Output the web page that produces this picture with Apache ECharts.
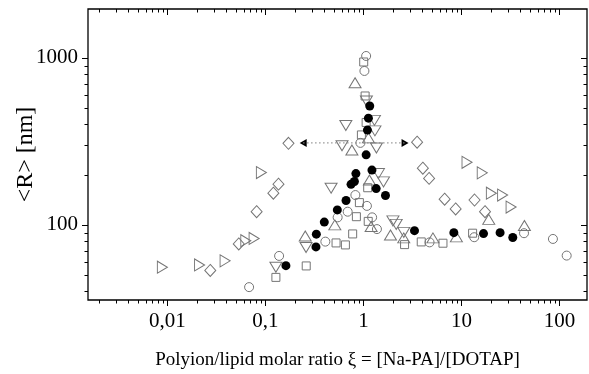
<!DOCTYPE html>
<html>
<head>
<meta charset="utf-8">
<script src="https://cdn.jsdelivr.net/npm/echarts@6/dist/echarts.min.js"></script>
<style>
  html, body { margin: 0; padding: 0; background: #fff; }
  #chart { width: 589px; height: 374px; }
</style>
</head>
<body>
<div id="chart"></div>
<script>
// axis ranges (log-log)
const xMin = 0.00155, xMax = 191;
const yMin = 35.5, yMax = 1965;

// data: x = molar ratio, y = <R> in nm
const openCircleX = [1.066, 1.024, 0.932, 0.828, 1.086, 0.691, 0.546, 1.227, 1.374, 0.409, 0.138, 0.0682, 4.73, 13.5, 43.5, 85.8, 118.5];
const openCircleY = [1028, 836, 310, 151, 130, 120, 111, 111, 94.4, 79.4, 65.2, 42.4, 78.6, 84.4, 89.2, 82.4, 65.5];

const filledCircleX = [1.16, 1.125, 1.099, 1.066, 0.838, 1.222, 0.809, 0.748, 1.349, 1.679, 0.665, 0.542, 0.399, 0.331, 0.328, 0.162, 3.32, 8.37, 16.8, 24.8, 33.4];
const filledCircleY = [516, 436, 370, 263, 203, 213, 182, 175, 165, 150, 140, 123, 104, 88, 73.8, 57, 92.4, 89.9, 88.7, 89.9, 84.1];

const squareX = [1.007, 1.041, 1.066, 0.954, 1.106, 0.91, 0.848, 1.12, 0.777, 0.526, 0.655, 0.261, 0.128, 2.63, 3.89, 6.48, 13.0];
const squareY = [946, 592, 411, 346, 167, 136, 112, 105, 88.3, 78, 75.9, 56.8, 48.5, 76.2, 79.1, 77.7, 89.2];

const upTriX = [0.822, 1.125, 0.763, 1.152, 0.511, 1.199, 0.255, 1.889, 2.58, 5.12, 8.88, 19.0, 43.9];
const upTriY = [711, 332, 281, 186, 100, 97.9, 85.9, 87.1, 83.6, 83.6, 84.8, 108, 99.3];

const downTriX = [1.073, 1.296, 0.662, 1.311, 0.605, 1.358, 0.468, 1.423, 1.602, 0.26, 0.128, 2.0, 2.16, 2.58];
const downTriY = [553, 423, 394, 366, 298, 289, 166, 203, 181, 73.3, 55.8, 105.7, 100.7, 90.2];

const rightTriX = [0.00889, 0.0213, 0.0388, 0.0631, 0.0767, 0.091, 11.4, 16.3, 20.2, 26.3, 32.1];
const rightTriY = [55.8, 57.6, 60.9, 80.4, 83.0, 206, 237, 205, 155, 151, 128];

const diamondX = [0.0274, 0.0535, 0.0814, 0.1206, 0.136, 0.172, 3.53, 4.04, 4.68, 6.74, 8.73, 13.6, 17.4];
const diamondY = [53.4, 76.9, 120, 155, 175.5, 308, 313, 218.6, 190, 142.5, 124.7, 141, 120];

// dotted double arrow
const arrowX = [0.243, 2.66];
const arrowY = [310, 310];

const zip = (xs, ys) => xs.map((x, i) => [x, ys[i]]);

// minor/major log ticks between lo and hi: [value, isMajor]
function logTicks(lo, hi) {
  const out = [];
  for (let e = Math.floor(Math.log10(lo)); e <= Math.ceil(Math.log10(hi)); e++) {
    for (let k = 1; k <= 9; k++) {
      const v = k * Math.pow(10, e);
      if (v > lo && v < hi) out.push([v, k === 1 ? 1 : 0]);
    }
  }
  return out;
}

function decadeLabel(v) {
  const e = Math.log10(v);
  if (Math.abs(e - Math.round(e)) > 1e-6) return "";
  return String(+v.toPrecision(3)).replace(".", ",");
}

const chartDom = document.getElementById("chart");
const myChart = echarts.init(chartDom, null, { renderer: "canvas" });

const font = "'Liberation Serif', 'Times New Roman', serif";
const grey = "#757575";
const openStyle = { color: "transparent", borderColor: grey, borderWidth: 1, opacity: 1 };

const option = {
  animation: false,
  backgroundColor: "#fff",
  grid: {
    left: 88,
    right: 2,
    top: 9,
    bottom: 74,
    show: true,
    borderColor: "#000",
    borderWidth: 1.3,
    outerBoundsMode: "none",
  },
  xAxis: {
    type: "log",
    min: xMin,
    max: xMax,
    axisLine: { show: false },
    axisTick: { show: false },
    splitLine: { show: false },
    axisLabel: {
      formatter: decadeLabel,
      margin: 11,
      color: "#000",
      fontFamily: font,
      fontSize: 21,
      showMinLabel: false,
      showMaxLabel: false,
    },
    name: "Polyion/lipid molar ratio ξ = [Na-PA]/[DOTAP]",
    nameLocation: "middle",
    nameGap: 51,
    nameMoveOverlap: false,
    nameTextStyle: { color: "#000", fontFamily: font, fontSize: 19 },
  },
  yAxis: {
    type: "log",
    min: yMin,
    max: yMax,
    axisLine: { show: false },
    axisTick: { show: false },
    splitLine: { show: false },
    axisLabel: {
      formatter: decadeLabel,
      margin: 10,
      color: "#000",
      fontFamily: font,
      fontSize: 21,
      showMinLabel: false,
      showMaxLabel: false,
    },
    name: "<R> [nm]",
    nameLocation: "middle",
    nameGap: 50,
    nameMoveOverlap: false,
    nameTextStyle: { color: "#000", fontFamily: font, fontSize: 24 },
  },
  series: [
    {
      name: "xTicks",
      type: "custom",
      silent: true,
      data: logTicks(xMin, xMax).map((t) => [t[0], yMin, t[1]]),
      encode: { x: 0, y: 1 },
      renderItem: (params, api) => {
        const cs = params.coordSys;
        const px = Math.round(api.coord([api.value(0), yMin])[0]) + 0.5;
        const len = api.value(2) ? 6 : 3.5;
        const bottom = cs.y + cs.height;
        const st = { stroke: "#000", lineWidth: 1 };
        return {
          type: "group",
          children: [
            { type: "line", shape: { x1: px, y1: bottom, x2: px, y2: bottom + len }, style: st },
            { type: "line", shape: { x1: px, y1: cs.y, x2: px, y2: cs.y + len }, style: st },
          ],
        };
      },
    },
    {
      name: "yTicks",
      type: "custom",
      silent: true,
      data: logTicks(yMin, yMax).map((t) => [xMin, t[0], t[1]]),
      encode: { x: 0, y: 1 },
      renderItem: (params, api) => {
        const cs = params.coordSys;
        const py = Math.round(api.coord([xMin, api.value(1)])[1]) + 0.5;
        const len = api.value(2) ? 6 : 3.5;
        const right = cs.x + cs.width;
        const st = { stroke: "#000", lineWidth: 1 };
        return {
          type: "group",
          children: [
            { type: "line", shape: { x1: cs.x - len, y1: py, x2: cs.x, y2: py }, style: st },
            { type: "line", shape: { x1: right - len, y1: py, x2: right, y2: py }, style: st },
          ],
        };
      },
    },
    {
      name: "arrowLine",
      type: "line",
      data: zip(arrowX, arrowY),
      symbol: "none",
      lineStyle: { color: "#888", width: 1.3, type: [1.3, 2.7] },
    },
    {
      name: "arrowHeads",
      type: "scatter",
      data: zip(arrowX, arrowY).map((p, i) => ({ value: p, symbolRotate: i === 0 ? 90 : -90 })),
      symbol: "triangle",
      symbolSize: [8, 7],
      itemStyle: { color: "#000", opacity: 1 },
    },
    {
      name: "diamond",
      type: "scatter",
      data: zip(diamondX, diamondY),
      symbol: "diamond",
      symbolSize: [11, 12],
      itemStyle: openStyle,
    },
    {
      name: "rightTri",
      type: "scatter",
      data: zip(rightTriX, rightTriY),
      symbol: "triangle",
      symbolRotate: -90,
      symbolSize: [12, 10],
      itemStyle: openStyle,
    },
    {
      name: "upTri",
      type: "scatter",
      data: zip(upTriX, upTriY),
      symbol: "triangle",
      symbolSize: [12, 10],
      itemStyle: openStyle,
    },
    {
      name: "downTri",
      type: "scatter",
      data: zip(downTriX, downTriY),
      symbol: "triangle",
      symbolRotate: 180,
      symbolSize: [12, 10],
      itemStyle: openStyle,
    },
    {
      name: "square",
      type: "scatter",
      data: zip(squareX, squareY),
      symbol: "rect",
      symbolSize: 8,
      itemStyle: openStyle,
    },
    {
      name: "openCircle",
      type: "scatter",
      data: zip(openCircleX, openCircleY),
      symbol: "circle",
      symbolSize: 9,
      itemStyle: openStyle,
    },
    {
      name: "filledCircle",
      type: "scatter",
      data: zip(filledCircleX, filledCircleY),
      symbol: "circle",
      symbolSize: 9,
      itemStyle: { color: "#000", opacity: 1 },
    },
  ],
};

option && myChart.setOption(option);
</script>
</body>
</html>
